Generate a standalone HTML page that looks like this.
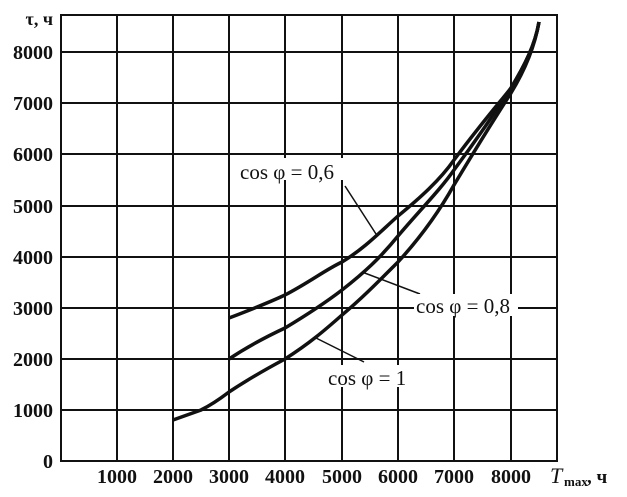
<!DOCTYPE html><html><head><style>body{margin:0;background:#fff}svg{display:block}text{font-family:"Liberation Serif",serif;fill:#111}</style></head><body>
<svg width="627" height="497" viewBox="0 0 627 497">
<g stroke="#111" stroke-width="2" fill="none">
<rect x="61" y="15" width="496" height="446"/>
<line x1="117" y1="15" x2="117" y2="461"/><line x1="173" y1="15" x2="173" y2="461"/><line x1="229" y1="15" x2="229" y2="461"/><line x1="285" y1="15" x2="285" y2="461"/><line x1="342" y1="15" x2="342" y2="461"/><line x1="398" y1="15" x2="398" y2="461"/><line x1="454" y1="15" x2="454" y2="461"/><line x1="511" y1="15" x2="511" y2="461"/>
<line x1="61" y1="52" x2="557" y2="52"/><line x1="61" y1="103" x2="557" y2="103"/><line x1="61" y1="154" x2="557" y2="154"/><line x1="61" y1="206" x2="557" y2="206"/><line x1="61" y1="257" x2="557" y2="257"/><line x1="61" y1="308" x2="557" y2="308"/><line x1="61" y1="359" x2="557" y2="359"/><line x1="61" y1="410" x2="557" y2="410"/>
</g>
<g stroke="#111" stroke-width="3.5" fill="none">
<path d="M173,420 L201,410 C215,403 225,395 229,392 C250,378 270,367 285,359 C310,343 325,330 342,315 C360,300 375,285 398,262 C420,238 440,210 454,185 C475,150 500,110 511,93 C525,70 535,45 539,22"/>
<path d="M229,359 C250,345 270,335 285,328 C310,313 325,303 342,290 C365,272 380,258 398,236 C420,210 440,190 454,170 C480,135 500,105 511,88 C525,65 535,45 539,22"/>
<path d="M229,318 C250,310 270,302 285,295 C310,282 325,270 342,262 C365,248 380,232 398,216 C420,198 440,180 454,160 C480,125 500,102 511,88 C525,65 535,45 539,22"/>
</g>
<g stroke="#111" stroke-width="1.5"><line x1="345" y1="186" x2="376" y2="234"/><line x1="420" y1="294" x2="362" y2="272"/><line x1="364" y1="362" x2="316" y2="338"/></g>
<g fill="#fff"><rect x="238" y="158" width="116" height="22"/><rect x="414" y="294" width="104" height="22"/><rect x="326" y="365" width="82" height="22"/></g>
<g font-size="21"><text x="240" y="179">cos φ = 0,6</text><text x="416" y="313">cos φ = 0,8</text><text x="328" y="385">cos φ = 1</text></g>
<g font-size="20" font-weight="bold" text-anchor="end"><text x="53" y="59">8000</text><text x="53" y="110">7000</text><text x="53" y="161">6000</text><text x="53" y="213">5000</text><text x="53" y="264">4000</text><text x="53" y="315">3000</text><text x="53" y="366">2000</text><text x="53" y="417">1000</text><text x="53" y="468">0</text></g>
<text x="53" y="25" font-size="18" font-weight="bold" text-anchor="end">τ, ч</text>
<g font-size="20" font-weight="bold" text-anchor="middle"><text x="117" y="483">1000</text><text x="173" y="483">2000</text><text x="229" y="483">3000</text><text x="285" y="483">4000</text><text x="342" y="483">5000</text><text x="398" y="483">6000</text><text x="454" y="483">7000</text><text x="511" y="483">8000</text></g>
<text x="550" y="483" font-size="22" font-style="italic">T</text><text x="564" y="486" font-size="13" font-weight="bold">max</text><text x="587" y="483" font-size="19" font-weight="bold">, ч</text>
</svg></body></html>
